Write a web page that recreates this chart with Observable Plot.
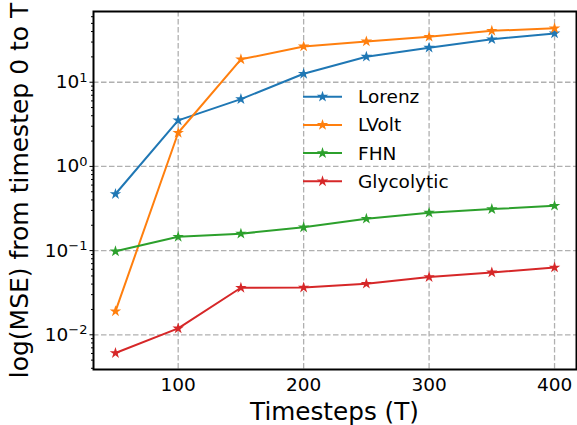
<!DOCTYPE html>
<html>
<head>
<meta charset="utf-8">
<script src="https://cdn.jsdelivr.net/npm/d3@7"></script>
<script src="https://cdn.jsdelivr.net/npm/@observablehq/plot@0.6"></script>
<style>
  html, body { margin: 0; padding: 0; background: white; }
</style>
</head>
<body>
<div id="chart"></div>
<script>
const timesteps = [50, 100, 150, 200, 250, 300, 350, 400];
const lorenz = [0.47, 3.52, 6.3, 12.6, 20.1, 25.7, 32.4, 38.0];
const lvolt = [0.019, 2.51, 18.7, 26.6, 30.5, 34.7, 40.8, 43.7];
const fhn = [0.098, 0.146, 0.159, 0.189, 0.239, 0.282, 0.311, 0.341];
const glycolytic = [0.00607, 0.0119, 0.0362, 0.0364, 0.0404, 0.0485, 0.055, 0.063];
const seriesNames = ["Lorenz", "LVolt", "FHN", "Glycolytic"];
const seriesColors = ["#1f77b4", "#ff7f0e", "#2ca02c", "#d62728"];
const xTicks = [100, 200, 300, 400];
const yTicks = [0.01, 0.1, 1, 10];
const xLabel = "Timesteps (T)";
const yLabel = "log(MSE) from timestep 0 to T";

const seriesValues = [lorenz, lvolt, fhn, glycolytic];
const data = [];
seriesNames.forEach((name, i) => {
  timesteps.forEach((t, j) => data.push({series: name, T: t, v: seriesValues[i][j]}));
});

// minor log ticks
const minorTicks = [];
for (let e = -3; e <= 1; e++) {
  for (let k = 2; k <= 9; k++) minorTicks.push(k * Math.pow(10, e));
}

const font = "DejaVu Sans, Liberation Sans, sans-serif";
const gridStyle = {stroke: "#b0b0b0", strokeOpacity: 1, strokeWidth: 1.3, strokeDasharray: "5.5,2.5"};

const chart = Plot.plot({
  width: 577,
  height: 425,
  marginLeft: 93,
  marginRight: 1,
  marginTop: 11,
  marginBottom: 56,
  style: {fontFamily: font, fontSize: "18.5px", color: "black", background: "white"},
  x: {domain: [32.5, 417.5]},
  y: {type: "log", domain: [0.00387, 69.2]},
  color: {domain: seriesNames, range: seriesColors},
  marks: [
    Plot.gridX(xTicks, gridStyle),
    Plot.gridY(yTicks, gridStyle),
    Plot.axisX(xTicks, {tickSize: 0, tickPadding: 8, label: null, fontSize: 18.5, tickFormat: d => String(d)}),
    Plot.axisY(yTicks, {tickSize: 3.5, tickPadding: 2.5, label: null, fontSize: 18.5,
      tickFormat: d => "10^" + Math.round(Math.log10(d))}),
    Plot.axisY(minorTicks.filter(d => d > 0.00387 && d < 69.2), {tickSize: 2, label: null, tickFormat: () => ""}),
    Plot.line(data, {x: "T", y: "v", stroke: "series", strokeWidth: 2}),
    Plot.dot(data, {x: "T", y: "v", fill: "series", symbol: "star", r: 3.6}),
    Plot.frame({stroke: "black", strokeWidth: 2})
  ]
});

document.getElementById("chart").appendChild(chart);
const svg = d3.select(chart);

// superscript tick labels
svg.selectAll('g[aria-label="y-axis tick label"] text').each(function() {
  const t = this.textContent;
  if (!t || t.indexOf("^") < 0) return;
  const exp = t.split("^")[1].replace("-", "\u2212");
  const sel = d3.select(this);
  sel.text("10");
  sel.append("tspan").attr("dy", "-0.5em").attr("font-size", "13px").text(exp);
});

// axis labels
svg.append("text")
  .attr("x", 334.5).attr("y", 420)
  .attr("text-anchor", "middle")
  .attr("font-family", font).attr("font-size", 24.7)
  .attr("fill", "black")
  .text(xLabel);
svg.append("text")
  .attr("transform", "translate(28,190.5) rotate(-90)")
  .attr("text-anchor", "middle")
  .attr("font-family", font).attr("font-size", 25)
  .attr("fill", "black")
  .text(yLabel);

// legend
const leg = svg.append("g").attr("font-family", font).attr("font-size", 18.5);
seriesNames.forEach((name, i) => {
  const y = 96.7 + 28.2 * i;
  leg.append("line").attr("x1", 303).attr("x2", 342).attr("y1", y).attr("y2", y)
    .attr("stroke", seriesColors[i]).attr("stroke-width", 2);
  leg.append("path").attr("d", d3.symbol(d3.symbolStar, Math.PI * 3.6 * 3.6)())
    .attr("transform", `translate(322.5,${y})`).attr("fill", seriesColors[i]);
  leg.append("text").attr("x", 358).attr("y", y).attr("dy", "0.35em")
    .attr("text-anchor", "start")
    .attr("fill", "black").text(name);
});
</script>
</body>
</html>
